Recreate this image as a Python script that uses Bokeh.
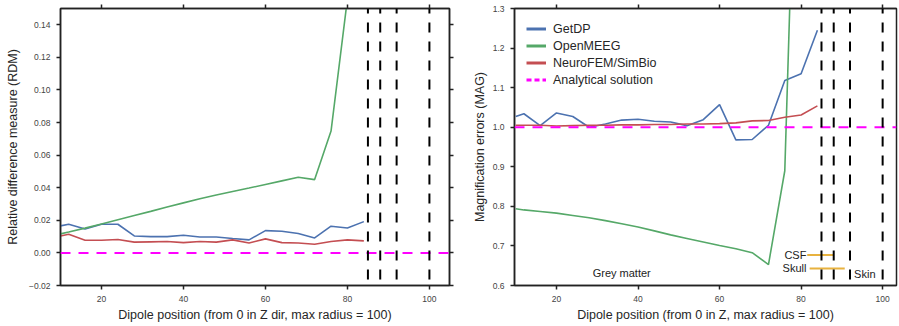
from bokeh.plotting import figure
from bokeh.layouts import row
from bokeh.models import LinearAxis, FixedTicker, Span, Legend, LegendItem, Range1d
from bokeh.core.properties import value
from bokeh.embed import file_html
from bokeh.resources import INLINE

# ---------------- data ----------------
positions = [10, 12, 16, 20, 24, 28, 32, 36, 40, 44, 48, 52, 56, 60, 64, 68, 72, 76, 80, 84]
positions_openmeeg = [10, 12, 16, 20, 24, 28, 32, 36, 40, 44, 48, 52, 56, 60, 64, 68, 72, 76, 80]

rdm_getdp = [0.0166, 0.0176, 0.0147, 0.0176, 0.0176, 0.0104, 0.0100, 0.0100, 0.0108, 0.0098,
             0.0098, 0.0088, 0.0080, 0.0137, 0.0133, 0.0119, 0.0092, 0.0164, 0.0153, 0.0192]
rdm_neurofem = [0.0104, 0.0115, 0.0078, 0.0078, 0.0082, 0.0066, 0.0068, 0.0070, 0.0063, 0.0070,
                0.0066, 0.0080, 0.0061, 0.0086, 0.0063, 0.0061, 0.0053, 0.0070, 0.0080, 0.0074]
rdm_openmeeg = [0.0117, 0.0128, 0.0152, 0.0178, 0.0204, 0.0230, 0.0255, 0.0282, 0.0307, 0.0332,
                0.0355, 0.0377, 0.0398, 0.0420, 0.0442, 0.0464, 0.0450, 0.0748, 0.156]
rdm_analytical = 0.0

mag_getdp = [1.027, 1.034, 1.004, 1.036, 1.027, 1.000, 1.008, 1.018, 1.020, 1.015,
             1.013, 1.004, 1.019, 1.057, 0.968, 0.969, 1.005, 1.118, 1.135, 1.245]
mag_neurofem = [1.005, 1.005, 1.005, 1.003, 1.004, 1.005, 1.005, 1.006, 1.006, 1.007,
                1.007, 1.008, 1.008, 1.009, 1.011, 1.016, 1.017, 1.025, 1.031, 1.054]
mag_openmeeg = [0.794, 0.791, 0.787, 0.783, 0.777, 0.771, 0.764, 0.756, 0.748, 0.738,
                0.728, 0.719, 0.710, 0.701, 0.693, 0.683, 0.653, 0.890, 2.25]
mag_analytical = 1.0

boundaries = [85, 88, 92, 100]

rdm_ticks = [-0.02, 0.0, 0.02, 0.04, 0.06, 0.08, 0.10, 0.12, 0.14]
rdm_tick_labels = ["\u22120.02", "0.00", "0.02", "0.04", "0.06", "0.08", "0.10", "0.12", "0.14"]
mag_ticks = [0.6, 0.7, 0.8, 0.9, 1.0, 1.1, 1.2, 1.3]
mag_tick_labels = ["0.6", "0.7", "0.8", "0.9", "1.0", "1.1", "1.2", "1.3"]
x_ticks = [20, 40, 60, 80, 100]

series_names = ["GetDP", "OpenMEEG", "NeuroFEM/SimBio", "Analytical solution"]

# annotations (data coordinates of the right panel)
region_left_text = ["CSF", "Skull"]
region_left_x = [81.3, 81.3]
region_left_y = [0.677, 0.643]
region_bar_x0 = [81.5, 82.1]
region_bar_x1 = [88.0, 90.7]
region_bar_y = [0.677, 0.643]
grey_text = ["Grey matter"]
grey_x = [36.0]
grey_y = [0.632]
skin_text = ["Skin"]
skin_x = [93.0]
skin_y = [0.629]

# ---------------- style ----------------
FONT = "Liberation Sans"
BLUE = "#4C72B0"
GREEN = "#55A868"
RED = "#C44E52"
MAGENTA = "#FF00FF"
ORANGE = "#E8B23F"
AXC = "#222222"
HEIGHT = 326
TOP = 8
FRAME_H = 277
NAN = float("nan")


def style_axis(ax, label_size="8.5px", standoff=5, label_standoff=1):
    ax.axis_line_color = AXC
    ax.axis_line_width = 1.5
    ax.major_tick_line_color = AXC
    ax.major_tick_line_width = 1.5
    ax.major_tick_out = 4
    ax.major_tick_in = 0
    ax.minor_tick_out = 0
    ax.minor_tick_in = 0
    ax.major_label_text_font = FONT
    ax.major_label_text_font_size = label_size
    ax.major_label_text_color = "#444444"
    ax.major_label_standoff = standoff
    ax.axis_label_text_font = FONT
    ax.axis_label_text_font_size = "12.5px"
    ax.axis_label_text_font_style = "normal"
    ax.axis_label_text_color = "#262626"
    ax.axis_label_standoff = label_standoff


def mirror_axis(p, ticks, side):
    ax = LinearAxis(ticker=FixedTicker(ticks=ticks))
    style_axis(ax, label_size="0px", standoff=0, label_standoff=0)
    ax.major_label_text_alpha = 0
    ax.major_label_overrides = {t: "" for t in ticks}
    p.add_layout(ax, side)


def make_fig(width, xr, yr, yticks, ylabels, xlabel, ylabel, left, right, ylab_standoff):
    p = figure(width=width, height=HEIGHT, x_range=Range1d(*xr), y_range=Range1d(*yr),
               output_backend="svg", toolbar_location=None,
               min_border_left=left, min_border_right=right, min_border_top=TOP,
               min_border_bottom=HEIGHT - TOP - FRAME_H)
    p.grid.visible = False
    p.outline_line_color = AXC
    p.outline_line_width = 1.5
    p.outline_line_alpha = 1.0
    p.background_fill_color = "white"
    p.border_fill_color = "white"

    p.xaxis.ticker = FixedTicker(ticks=x_ticks)
    p.xaxis.axis_label = xlabel
    style_axis(p.xaxis[0], standoff=6, label_standoff=3)

    p.yaxis.ticker = FixedTicker(ticks=yticks)
    p.yaxis.major_label_overrides = {t: l for t, l in zip(yticks, ylabels)}
    p.yaxis.axis_label = ylabel
    style_axis(p.yaxis[0], standoff=6, label_standoff=ylab_standoff)

    mirror_axis(p, x_ticks, "above")
    return p


# ---------------- left panel ----------------
p1 = make_fig(469, (10, 104.9), (-0.02, 0.15), rdm_ticks, rdm_tick_labels,
              "Dipole position (from 0 in Z dir, max radius = 100)",
              "Relative difference measure (RDM)", 60, 20, 6)
mirror_axis(p1, rdm_ticks, "right")

p1.add_layout(Span(location=rdm_analytical, dimension="width", line_color=MAGENTA,
                   line_width=2, line_dash="10 8"))
for b in boundaries:
    p1.add_layout(Span(location=b, dimension="height", line_color="black",
                       line_width=2, line_dash="10 9", line_dash_offset=5))
p1.line(positions, rdm_getdp, line_color=BLUE, line_width=1.6)
p1.line(positions_openmeeg, rdm_openmeeg, line_color=GREEN, line_width=1.6)
p1.line(positions, rdm_neurofem, line_color=RED, line_width=1.6)

# ---------------- right panel ----------------
p2 = make_fig(430, (9.7, 103.4), (0.6, 1.3), mag_ticks, mag_tick_labels,
              "Dipole position (from 0 in Z, max radius = 100)",
              "Magnification errors (MAG)", 43, 3, 3)

p2.add_layout(Span(location=mag_analytical, dimension="width", line_color=MAGENTA,
                   line_width=2, line_dash="10 8"))
for b in boundaries:
    p2.add_layout(Span(location=b, dimension="height", line_color="black",
                       line_width=2, line_dash="10 9", line_dash_offset=5))
p2.line(positions, mag_getdp, line_color=BLUE, line_width=1.6)
p2.line(positions_openmeeg, mag_openmeeg, line_color=GREEN, line_width=1.6)
p2.line(positions, mag_neurofem, line_color=RED, line_width=1.6)

p2.segment(x0=region_bar_x0, y0=region_bar_y, x1=region_bar_x1, y1=region_bar_y,
           line_color=ORANGE, line_width=2)
p2.text(x=region_left_x, y=region_left_y, text=region_left_text, text_font=value(FONT),
        text_font_size="11px", text_align="right", text_baseline="middle", text_color="#222222")
p2.text(x=grey_x, y=grey_y, text=grey_text, text_font=value(FONT),
        text_font_size="11px", text_align="center", text_baseline="middle", text_color="#222222")
p2.text(x=skin_x, y=skin_y, text=skin_text, text_font=value(FONT),
        text_font_size="11px", text_align="left", text_baseline="middle", text_color="#222222")

# legend (legend-only renderers styled like the reference legend keys)
legend_styles = [(BLUE, "solid"), (GREEN, "solid"), (RED, "solid"), (MAGENTA, "5 3")]
items = []
for name, (col, dash) in zip(series_names, legend_styles):
    r = p2.line(x=[NAN, NAN], y=[NAN, NAN], line_color=col, line_width=3, line_dash=dash)
    items.append(LegendItem(label=name, renderers=[r]))
legend = Legend(items=items, location="top_left", border_line_alpha=0,
                background_fill_alpha=0, margin=0, padding=12, spacing=0,
                glyph_width=20, glyph_height=17, label_height=17, label_standoff=7,
                label_text_font=FONT, label_text_font_size="12.5px",
                label_text_color="#262626")
p2.add_layout(legend)

layout = row(p1, p2)
open("out.html", "w").write(file_html(layout, INLINE))
